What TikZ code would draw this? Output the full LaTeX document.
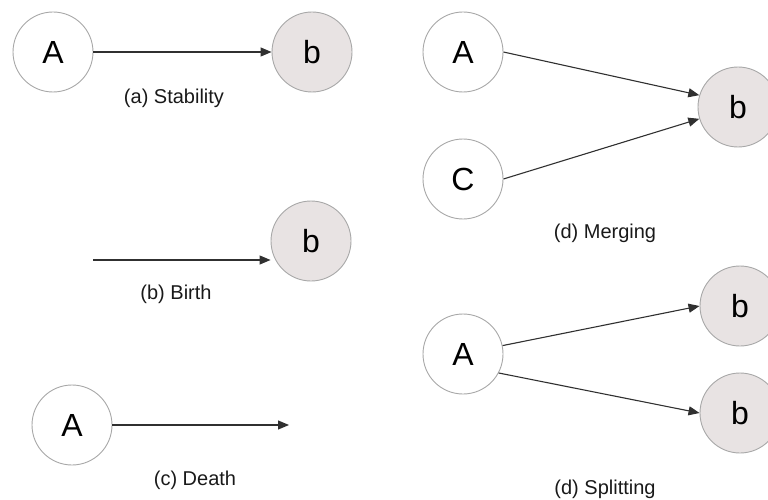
\documentclass[tikz,border=0pt]{standalone}
\usepackage{fontspec}
\setmainfont{Liberation Sans}
\usetikzlibrary{arrows.meta}
\definecolor{bfill}{HTML}{E8E3E3}
\definecolor{rim}{HTML}{A8A8A8}
\definecolor{lnc}{HTML}{303030}
\begin{document}
\begin{tikzpicture}[x=1pt,y=-1pt,
  nodeA/.style={circle,draw=rim,line width=0.9pt,fill=white,minimum size=80pt,inner sep=0pt,font=\fontsize{32}{34}\selectfont},
  nodeB/.style={nodeA,fill=bfill},
  conn/.style={draw=lnc,line width=1.1pt,-{Triangle[length=11pt,width=9pt]}},
  captext/.style={font=\fontsize{20}{22}\selectfont,text=black!90}]
\useasboundingbox (0,0) rectangle (768,500);
% (a)
\node[nodeA] (a1) at (53,52) {A};
\node[nodeB] (a2) at (312,52) {b};
\draw[conn] (a1) -- (a2);
\node[captext] (la) at (174,98) {(a) Stability};
% (b)
\node[nodeB] (b2) at (311,241) {b};
\coordinate (b1) at (93,260);
\draw[conn] (b1) -- (b1 -| b2.west);
\node[captext] (lb) at (176,294) {(b) Birth};
% (c)
\node[nodeA] (c1) at (72,425) {A};
\coordinate (c2) at (289,425);
\draw[conn] (c1) -- (c2);
\node[captext] (lc) at (195,480) {(c) Death};
% (d) merging
\node[nodeA] (m1) at (463,52) {A};
\node[nodeA] (m2) at (463,179) {C};
\node[nodeB] (m3) at (738,107) {b};
\draw[conn] (m1.east) -- (m3.163);
\draw[conn] (m2.east) -- (m3.197);
\node[captext] (lm) at (605,233) {(d) Merging};
% (d) splitting
\node[nodeA] (s1) at (463,354) {A};
\node[nodeB] (s2) at (740,306) {b};
\node[nodeB] (s3) at (740,413) {b};
\draw[conn] (s1.12) -- (s2.west);
\draw[conn] (s1.-28) -- (s3.west);
\node[captext] (ls) at (605,489) {(d) Splitting};
\end{tikzpicture}
\end{document}
